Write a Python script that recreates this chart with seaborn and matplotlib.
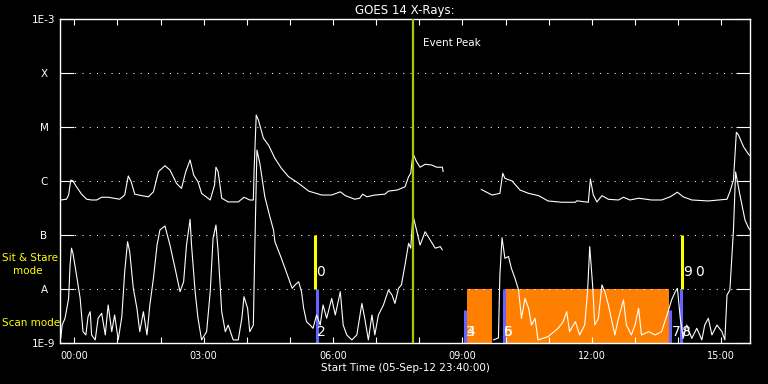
import numpy as np
import pandas as pd
import matplotlib
matplotlib.use("Agg")
import matplotlib.pyplot as plt
import matplotlib.dates as mdates
import seaborn as sns

# -----------------------------
# Data (minutes after start time, flux in W/m^2)
# -----------------------------
START = pd.Timestamp("2012-09-05 23:40:00")
END = pd.Timestamp("2012-09-06 15:40:00")

long_minutes = [1, 9, 12, 15, 18, 23, 30, 37, 44, 51, 58, 67, 83, 90, 95, 99, 104, 114, 123, 130,
                137, 146, 153, 162, 169, 175, 181, 186, 192, 197, 209, 215, 217, 220, 225, 234, 248,
                256, 264, 269, 270, 273, 276, 283, 290, 299, 308, 318, 332, 346, 364, 378, 390, 397,
                410, 417, 421, 427, 438, 452, 457, 469, 480, 485, 488, 490, 492, 496, 501, 508, 517,
                524, 532, 533, 560, 586, 601, 612, 616, 619, 629, 640, 652, 666, 679, 698, 717, 719,
                735, 738, 742, 747, 754, 763, 777, 784, 793, 805, 823, 837, 849, 859, 867, 879, 902,
                928, 932, 937, 941, 944, 951, 958, 960]
long_flux = [4.45e-7, 4.6e-7, 5.5e-7, 1.04e-6, 1.0e-6, 7.8e-7, 5.7e-7, 4.6e-7, 4.45e-7, 4.45e-7,
             5.0e-7, 5.0e-7, 4.6e-7, 5.5e-7, 1.24e-6, 9.7e-7, 5.7e-7, 5.35e-7, 5.1e-7, 6.3e-7,
             1.49e-6, 1.92e-6, 1.6e-6, 9.05e-7, 7.3e-7, 1.49e-6, 2.45e-6, 1.29e-6, 9.7e-7, 5.9e-7,
             4.45e-7, 8.4e-7, 1.8e-6, 1.49e-6, 4.8e-7, 4.1e-7, 4.1e-7, 5.0e-7, 4.45e-7, 4.45e-7,
             1.49e-6, 1.67e-5, 1.35e-5, 6.2e-6, 4.65e-6, 2.63e-6, 1.72e-6, 1.2e-6, 9.05e-7, 6.5e-7,
             5.5e-7, 5.5e-7, 6.3e-7, 5.35e-7, 4.6e-7, 4.8e-7, 5.7e-7, 5.1e-7, 5.5e-7, 5.7e-7,
             6.5e-7, 6.8e-7, 7.8e-7, 1.2e-6, 1.39e-6, 2.45e-6, 3.03e-6, 2.28e-6, 1.8e-6, 2.04e-6,
             1.98e-6, 1.8e-6, 1.8e-6, 1.49e-6, np.nan, 7.0e-7, 5.5e-7, 5.9e-7, 1.39e-6, 1.12e-6,
             1.0e-6, 6.8e-7, 5.9e-7, 5.35e-7, 4.27e-7, 4.04e-7, 4.04e-7, 4.3e-7, 4.04e-7, 1.09e-6,
             5.5e-7, 4.1e-7, 5.35e-7, 4.58e-7, 4.45e-7, 5.0e-7, 4.45e-7, 4.8e-7, 4.45e-7, 4.45e-7,
             5.1e-7, 6.2e-7, 5.1e-7, 4.45e-7, 4.27e-7, 4.6e-7, 6.3e-7, 1.04e-6, 7.98e-6, 7.1e-6,
             4.3e-6, 3.12e-6, 2.95e-6]

short_minutes = [1, 3, 7, 12, 14, 16, 18, 23, 28, 32, 36, 39, 42, 44, 49, 53, 58, 63, 67, 72, 76,
                 81, 86, 90, 94, 97, 102, 107, 111, 116, 121, 125, 130, 135, 139, 146, 153, 160, 167,
                 172, 176, 181, 183, 188, 192, 197, 204, 209, 213, 217, 220, 225, 230, 234, 241, 248,
                 253, 256, 261, 264, 269, 271, 274, 278, 285, 292, 297, 299, 308, 318, 323, 327, 332,
                 336, 339, 343, 348, 352, 357, 362, 366, 371, 378, 383, 390, 394, 399, 406, 413, 420,
                 424, 429, 434, 438, 443, 450, 457, 462, 466, 471, 475, 480, 485, 488, 491, 496, 501,
                 508, 515, 522, 529, 532, 560, 603, 610, 612, 615, 619, 624, 628, 633, 638, 642, 647,
                 652, 656, 661, 665, 679, 693, 700, 705, 709, 717, 723, 730, 734, 737, 741, 744, 749,
                 754, 758, 763, 768, 772, 777, 784, 788, 795, 800, 805, 809, 819, 828, 837, 846, 851,
                 856, 859, 863, 867, 872, 879, 886, 893, 897, 902, 907, 914, 921, 925, 928, 932, 937,
                 940, 946, 953, 958, 960]
short_flux = [1.22e-9, 2.15e-9, 2.87e-9, 6.7e-9, 2.78e-8, 5.7e-8, 4.6e-8, 1.8e-8, 6.8e-9, 1.62e-9,
              1.41e-9, 3.07e-9, 3.8e-9, 1.41e-9, 1.14e-9, 2.87e-9, 3.55e-9, 1.41e-9, 5.06e-9,
              1.62e-9, 3.3e-9, 1.14e-9, 3.07e-9, 2.09e-8, 7.5e-8, 4.9e-8, 1.03e-8, 4.4e-9, 1.62e-9,
              3.8e-9, 1.41e-9, 5.06e-9, 1.58e-8, 6.5e-8, 1.24e-7, 1.47e-7, 6.5e-8, 2.45e-8, 8.9e-9,
              1.36e-8, 6.5e-8, 1.95e-7, 6.5e-8, 8.9e-9, 2.87e-9, 1.14e-9, 1.62e-9, 8.9e-9, 8.8e-8,
              1.53e-7, 4.9e-8, 3.8e-9, 1.62e-9, 2.15e-9, 1.14e-9, 1.14e-9, 2.87e-9, 7.2e-9, 4.4e-9,
              1.62e-9, 2.15e-9, 5.3e-8, 3.75e-6, 2.13e-6, 5.1e-7, 2.18e-7, 1.24e-7, 7.5e-8, 3.7e-8,
              1.58e-8, 1.03e-8, 1.19e-8, 1.36e-8, 8.9e-9, 4.4e-9, 2.48e-9, 2.15e-9, 1.87e-9, 3.3e-9,
              2.15e-9, 5.06e-9, 2.87e-9, 6.7e-9, 3.3e-9, 8.9e-9, 2.15e-9, 1.41e-9, 1.14e-9, 1.41e-9,
              5.4e-9, 2.87e-9, 1.14e-9, 3.3e-9, 1.41e-9, 3.3e-9, 5.06e-9, 9.6e-9, 7.7e-9, 5.4e-9,
              1.03e-8, 1.19e-8, 2.78e-8, 7.0e-8, 5.7e-8, 2.34e-7, 1.24e-7, 6.5e-8, 1.15e-7, 8.1e-8,
              5.7e-8, 6.1e-8, 5.3e-8, np.nan, 1.14e-9, 1.24e-9, 1.8e-8, 8.9e-8, 3.7e-8, 4.0e-8,
              2.42e-8, 1.58e-8, 9.6e-9, 2.87e-9, 6.7e-9, 4.4e-9, 2.15e-9, 2.87e-9, 1.14e-9, 1.31e-9,
              1.87e-9, 2.48e-9, 3.8e-9, 1.62e-9, 2.48e-9, 1.41e-9, 2.15e-9, 8.9e-9, 6.1e-8, 1.19e-8,
              2.15e-9, 2.87e-9, 1.19e-8, 8.9e-9, 5.06e-9, 2.48e-9, 1.41e-9, 2.87e-9, 6.3e-9, 2.15e-9,
              1.41e-9, 2.15e-9, 4.4e-9, 1.41e-9, 1.62e-9, 1.41e-9, 1.62e-9, 3.8e-9, 6.3e-9, 8.9e-9,
              1.03e-8, 2.87e-9, 1.22e-9, 2.15e-9, 1.22e-9, 1.87e-9, 1.14e-9, 2.15e-9, 2.87e-9,
              1.41e-9, 2.15e-9, 1.62e-9, 1.14e-9, 7.7e-9, 9.6e-9, 1.24e-7, 1.47e-6, 5.5e-7, 1.9e-7,
              1.35e-7, 1.24e-7]

# GOES flare classes on the left axis
class_levels = [1e-9, 1e-8, 1e-7, 1e-6, 1e-5, 1e-4, 1e-3]
class_labels = ["1E-9", "A", "B", "C", "M", "X", "1E-3"]

event_peak = "2012-09-06 07:51"

# sit & stare pointings (yellow) and scan mode pointings (blue)
stare_times = ["2012-09-06 05:35", "2012-09-06 14:06"]
scan_times = ["2012-09-06 05:37", "2012-09-06 09:04", "2012-09-06 09:58",
              "2012-09-06 13:48", "2012-09-06 14:04"]
scan_tops = [1e-8, 4.1e-9, 1e-8, 4.1e-9, 1e-8]

# scan windows (orange)
window_starts = ["2012-09-06 09:06", "2012-09-06 10:00"]
window_ends = ["2012-09-06 09:41", "2012-09-06 13:47"]

# pointing numbers
point_labels = ["0", "2", "3", "4", "5", "6", "7", "8", "9", "0"]
point_times = ["2012-09-06 05:36", "2012-09-06 05:38", "2012-09-06 09:05", "2012-09-06 09:05",
               "2012-09-06 09:58", "2012-09-06 09:58", "2012-09-06 13:51", "2012-09-06 14:05",
               "2012-09-06 14:07", "2012-09-06 14:24"]
point_rows = ["stare", "scan", "scan", "scan", "scan", "scan", "scan", "scan", "stare", "stare"]


def to_frame(minutes, flux):
    """Build a frame with one segment id per unbroken piece of the curve"""
    df = pd.DataFrame({"time": START + pd.to_timedelta(minutes, unit="min"), "flux": flux})
    df["segment"] = df["flux"].isna().cumsum()
    return df.dropna()


# -----------------------------
# Style
# -----------------------------
sns.set_theme(style="dark", rc={
    "figure.facecolor": "black",
    "axes.facecolor": "black",
    "axes.edgecolor": "white",
    "axes.labelcolor": "white",
    "text.color": "white",
    "xtick.color": "white",
    "ytick.color": "white",
    "axes.axisbelow": "line",
})
plt.rcParams["font.family"] = ["DejaVu Sans"]

fig = plt.figure(figsize=(7.68, 3.84), dpi=100)
ax = fig.add_axes([60 / 768, 41 / 384, 690 / 768, 324 / 384])

# scan windows
for t0, t1 in zip(window_starts, window_ends):
    ax.fill_between([pd.Timestamp(t0), pd.Timestamp(t1)], 1e-9, 1e-8,
                    color="#ff8000", lw=0, zorder=1)

ax.vlines(pd.to_datetime(stare_times), 1e-8, 1e-7, color="#ffff00", lw=2.2, zorder=1.6)
ax.vlines(pd.to_datetime(scan_times), 1e-9, scan_tops, color="#6464ff", lw=2.2, zorder=1.6)

sns.lineplot(data=to_frame(long_minutes, long_flux), x="time", y="flux", units="segment",
             estimator=None, color="white", lw=0.8, ax=ax, legend=False, zorder=2)
sns.lineplot(data=to_frame(short_minutes, short_flux), x="time", y="flux", units="segment",
             estimator=None, color="white", lw=0.8, ax=ax, legend=False, zorder=2)

ax.axvline(pd.Timestamp(event_peak), color="#a8c800", lw=1.6, zorder=3)
ax.annotate("Event Peak", xy=(pd.Timestamp(event_peak), 0.926),
            xycoords=("data", "axes fraction"), xytext=(7, 0), textcoords="offset points",
            va="center", ha="left", fontsize=7.5, color="white")

for lab, t, row in zip(point_labels, point_times, point_rows):
    y = 2.07e-8 if row == "stare" else 1.6e-9
    ax.text(pd.Timestamp(t), y, lab, ha="left", va="center", fontsize=10,
            color="white", zorder=4)

# -----------------------------
# Axes
# -----------------------------
ax.set_yscale("log")
ax.set_ylim(1e-9, 1e-3)
ax.set_xlim(START, END)
ax.set_yticks(class_levels, class_labels)
ax.yaxis.set_minor_locator(matplotlib.ticker.NullLocator())
ax.xaxis.set_major_locator(mdates.HourLocator(byhour=range(0, 24, 3)))
ax.xaxis.set_minor_locator(mdates.HourLocator())
ax.xaxis.set_major_formatter(mdates.DateFormatter("%H:%M"))

ax.tick_params(axis="x", which="both", direction="in", top=True, bottom=True,
               length=4.3, width=0.8, labelsize=7, pad=5.5)
ax.tick_params(axis="y", which="major", direction="in", left=True, right=True,
               length=10, width=0.8, labelsize=7.5, pad=11.5)
plt.setp(ax.get_yticklabels(), ha="center")

ax.grid(False)
ax.grid(axis="y", which="major", color="white", linestyle=(0, (1, 6)), linewidth=0.75)
for s in ax.spines.values():
    s.set_color("white")
    s.set_linewidth(1.0)

ax.set_title("GOES 14 X-Rays:", fontsize=8.5, pad=3.5, color="white")
ax.set_xlabel("Start Time (05-Sep-12 23:40:00)", fontsize=7.5, labelpad=2)
ax.set_ylabel("")

fig.text(2 / 768, 1 - 258 / 384, "Sit & Stare", color="#ffff00", fontsize=7.5, va="center", ha="left")
fig.text(13 / 768, 1 - 271 / 384, "mode", color="#ffff00", fontsize=7.5, va="center", ha="left")
fig.text(2 / 768, 1 - 323 / 384, "Scan mode", color="#ffff00", fontsize=7.5, va="center", ha="left")

fig.savefig("out.png", dpi=100, facecolor="black")
